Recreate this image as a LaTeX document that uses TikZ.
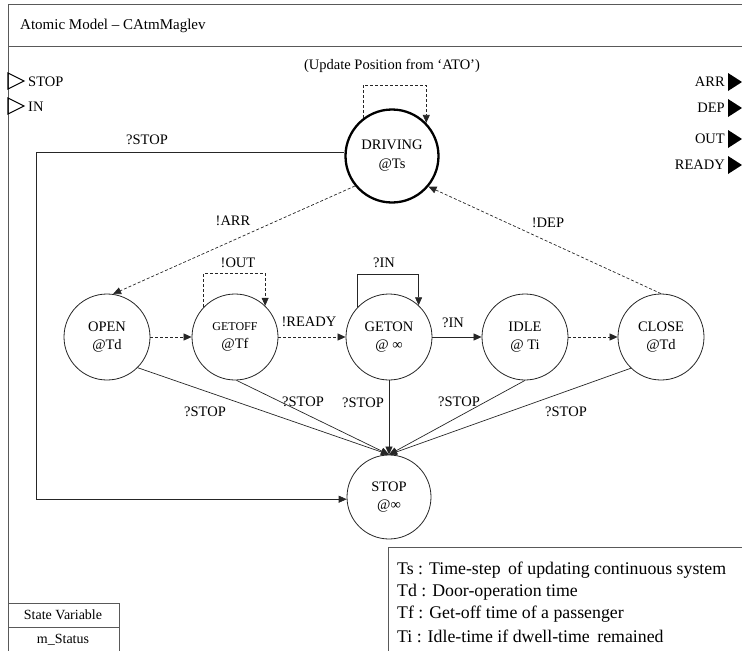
\documentclass[tikz,border=0pt]{standalone}
\usepackage{fontspec}
\setmainfont{Liberation Serif}
\usetikzlibrary{arrows.meta,calc}
\begin{document}
\begin{tikzpicture}[x=1pt,y=-1pt,
 st/.style={circle,draw=black!85,line width=0.8pt,minimum size=86pt,inner sep=0pt,align=center,font=\fontsize{14.5}{18}\selectfont},
 lbl/.style={font=\fontsize{14.5}{17}\selectfont,inner sep=0pt},
 leg/.style={font=\fontsize{17.8}{20}\selectfont,inner sep=0pt,anchor=west},
 tr/.style={-{Triangle[length=8pt,width=7pt]},line width=0.7pt,draw=black!85},
 dsh/.style={dash pattern=on 3pt off 2pt},
 frm/.style={line width=0.9pt,draw=black!65}]
\useasboundingbox (0,0) rectangle (742,651);
% frame
\draw[frm] (742,4) -- (8,4) -- (8,651);
\draw[frm] (8,46) -- (742,46);
\node[lbl,anchor=west,font=\fontsize{15}{17}\selectfont] (title) at (20,26) {Atomic Model – CAtmMaglev};
% input ports
\draw[line width=1.1pt] (8,73) -- (24,81) -- (8,89) -- cycle;
\draw[line width=1.1pt] (8,98) -- (24,106) -- (8,114) -- cycle;
\node[lbl,anchor=west] (pstop) at (28,82) {STOP};
\node[lbl,anchor=west] (pin) at (28,107) {IN};
% output ports
\fill (728,73) -- (742,82) -- (728,91) -- cycle;
\fill (728,99) -- (742,108) -- (728,117) -- cycle;
\fill (728,130) -- (742,139) -- (728,148) -- cycle;
\fill (728,156) -- (742,165) -- (728,174) -- cycle;
\node[lbl,anchor=east] (parr) at (725,82) {ARR};
\node[lbl,anchor=east] (pdep) at (725,108) {DEP};
\node[lbl,anchor=east] (pout) at (725,139) {OUT};
\node[lbl,anchor=east] (pready) at (725,165) {READY};
% states
\node[st,line width=2.3pt,draw=black,minimum size=93pt] (drv) at (392,156) {DRIVING\\[1pt]@Ts};
\node[st] (open) at (107,337) {OPEN\\@Td};
\node[st] (getoff) at (235,337) {{\fontsize{12}{14}\selectfont GETOFF}\\@Tf};
\node[st] (geton) at (389,337) {GETON\\@ ∞};
\node[st] (idle) at (525,337) {IDLE\\@ Ti};
\node[st] (close) at (661,337) {CLOSE\\@Td};
\node[st,minimum size=84pt] (stop) at (389,497) {STOP\\@∞};
% helper coordinates
\coordinate (ly) at (0,85);
\coordinate (gy) at (0,273);
\coordinate (ny) at (0,274);
\coordinate (lx) at (36,0);
% self loops
\draw[tr,dsh] (drv.127) -- (drv.127 |- ly) -| (drv.44);
\node[lbl] (upd) at (392,66) {(Update Position from ‘ATO’)};
\draw[tr,dsh] (getoff.136) -- (getoff.136 |- gy) -| (getoff.46);
\node[lbl] (lout) at (238,263) {!OUT};
\draw[tr] (geton.136) -- (geton.136 |- ny) -| (geton.47);
\node[lbl] (lin1) at (384,263) {?IN};
% transitions
\draw[tr,dsh] (drv.219) -- (open.82);
\node[lbl] (larr) at (233,221) {!ARR};
\draw[tr,dsh] (close.north) -- (drv.-40);
\node[lbl] (ldep) at (548,223) {!DEP};
\draw[tr,dsh] (open) -- (getoff);
\draw[tr,dsh] (getoff) -- (geton);
\node[lbl] (lready) at (309,322) {!READY};
\draw[tr] (geton) -- (idle);
\node[lbl] (lin2) at (453,323) {?IN};
\draw[tr,dsh] (idle) -- (close);
% to STOP
\draw[tr] (open.-45) -- (stop.north);
\draw[tr] (getoff.-88) -- (stop.north);
\draw[tr] (geton.south) -- (stop.north);
\draw[tr] (idle.south) -- (stop.north);
\draw[tr] (close.-134) -- (stop.north);
\draw[tr] (drv.176) -- (drv.176 -| lx) |- (stop.183);
\node[lbl] (ls0) at (147,140) {?STOP};
\node[lbl] (ls1) at (205,412) {?STOP};
\node[lbl] (ls2) at (303,402) {?STOP};
\node[lbl] (ls3) at (363,403) {?STOP};
\node[lbl] (ls4) at (459,402) {?STOP};
\node[lbl] (ls5) at (566,412) {?STOP};
% legend
\draw[frm,line width=0.8pt] (742,547) -- (388,547) -- (388,651);
\node[leg] (t1) at (397,570) {Ts : Time-step\hspace{3pt} of updating continuous system};
\node[leg] (t2) at (397,592) {Td : Door-operation time};
\node[leg] (t3) at (397,614) {Tf : Get-off time of a passenger};
\node[leg] (t4) at (397,636) {Ti : Idle-time if dwell-time\hspace{3pt} remained};
% state variable
\draw[frm,line width=0.8pt] (8,603) -- (119,603) -- (119,651);
\draw[frm,line width=0.8pt] (8,627) -- (119,627);
\node[lbl,font=\fontsize{14}{17}\selectfont] (sv) at (63,615) {State Variable};
\node[lbl,font=\fontsize{14}{17}\selectfont] (ms) at (63,640) {m\_Status};
\end{tikzpicture}
\end{document}
